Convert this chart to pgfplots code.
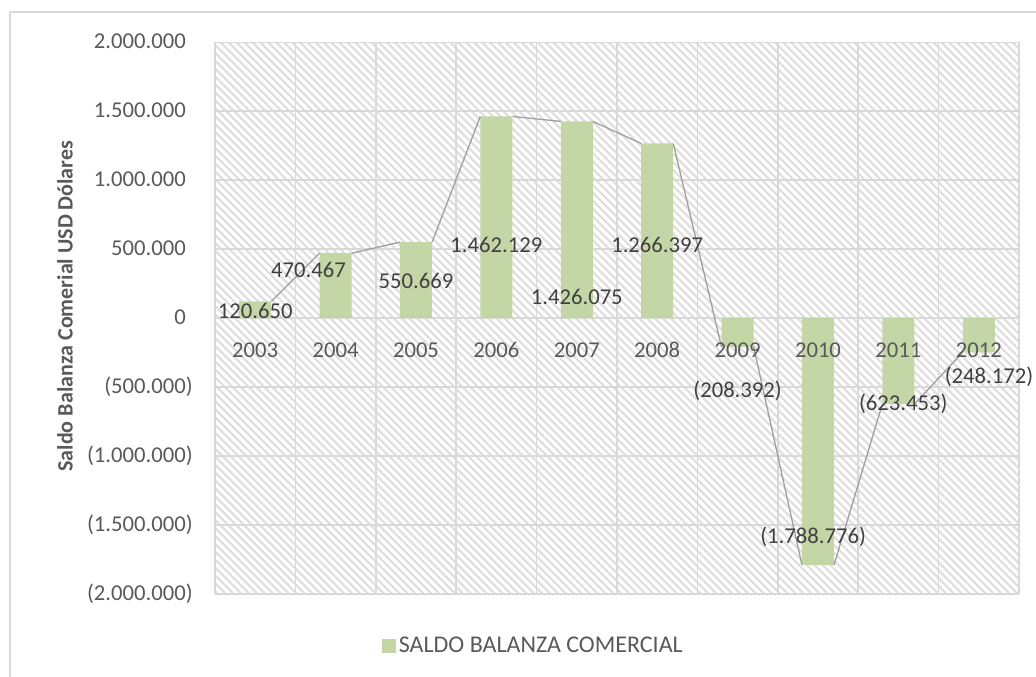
\documentclass[border=0pt]{standalone}
\usepackage{pgfplots}
\pgfplotsset{compat=1.18}
\usepackage{fontspec}
\setmainfont{Carlito}
\usetikzlibrary{patterns.meta}
\definecolor{barcol}{RGB}{196,214,166}
\definecolor{gridc}{RGB}{217,217,217}
\definecolor{hatchc}{RGB}{222,222,222}
\definecolor{tickc}{RGB}{89,89,89}
\definecolor{labc}{RGB}{64,64,64}
\definecolor{linec}{RGB}{160,160,160}
\begin{document}
\begin{tikzpicture}
\useasboundingbox (-161.25pt,-62.25pt) rectangle (615.75pt,445.5pt);
\draw[gridc, line width=0.9pt] (-153.75pt,-120pt) -- (-153.75pt,436.5pt) -- (700pt,436.5pt);
\begin{axis}[
  scale only axis, width=603pt, height=413.8pt,
  xmin=-0.5, xmax=9.5, ymin=-2000000, ymax=2000000,
  scaled y ticks=false,
  axis line style={draw=none},
  major tick length=0pt, minor tick length=0pt,
  axis background/.style={pattern={Lines[angle=-45,distance=4.2pt,line width=1.6pt]}, pattern color=hatchc},
  xtick={0,1,2,3,4,5,6,7,8,9},
  xticklabels={},
  minor xtick={-0.5,0.5,1.5,2.5,3.5,4.5,5.5,6.5,7.5,8.5,9.5},
  xminorgrids=true,
  minor x grid style={gridc, line width=1.1pt},
  ytick={-2000000,-1500000,-1000000,-500000,0,500000,1000000,1500000,2000000},
  yticklabels={{(2.000.000)},{(1.500.000)},{(1.000.000)},{(500.000)},{0\phantom{)}},{500.000\phantom{)}},{1.000.000\phantom{)}},{1.500.000\phantom{)}},{2.000.000\phantom{)}}},
  ymajorgrids=true,
  major grid style={gridc, line width=1.1pt},
  tick label style={font=\fontsize{17}{20}\selectfont, text=tickc},
  yticklabel style={anchor=east, inner sep=0pt, xshift=-16.5pt},
  unbounded coords=jump,
  legend style={at={(axis description cs:0.2027,-0.0942)}, anchor=west, draw=none, fill=none,
    font=\fontsize{18}{21}\selectfont, text=tickc},
  clip=false,
]
\addplot[ybar, bar width=24pt, fill=barcol, draw=none,
  legend image code/.code={\fill[barcol] (0pt,-5.25pt) rectangle (10.5pt,5.25pt);}]
  coordinates {(0,120650) (1,470467) (2,550669) (3,1462129) (4,1426075)
               (5,1266397) (6,-208392) (7,-1788776) (8,-623453) (9,-248172)};
\addlegendentry{SALDO BALANZA COMERCIAL}
\addplot[forget plot, linec, line width=1pt, no marks] coordinates {
  (0.2,120650) (0.8,470467) (1,nan)
  (1.2,470467) (1.8,550669) (2,nan)
  (2.2,550669) (2.8,1462129) (3,nan)
  (3.2,1462129) (3.8,1426075) (4,nan)
  (4.2,1426075) (4.8,1266397) (5,nan)
  (5.2,1266397) (5.8,-208392) (6,nan)
  (6.2,-208392) (6.8,-1788776) (7,nan)
  (7.2,-1788776) (7.8,-623453) (8,nan)
  (8.2,-623453) (8.8,-248172)};
\begin{scope}[every node/.style={font=\fontsize{17}{20}\selectfont, text=tickc, inner sep=0pt, yshift=-23.8pt}]
\node at (axis cs:0,0) {2003};
\node at (axis cs:1,0) {2004};
\node at (axis cs:2,0) {2005};
\node at (axis cs:3,0) {2006};
\node at (axis cs:4,0) {2007};
\node at (axis cs:5,0) {2008};
\node at (axis cs:6,0) {2009};
\node at (axis cs:7,0) {2010};
\node at (axis cs:8,0) {2011};
\node at (axis cs:9,0) {2012};
\end{scope}
\begin{scope}[every node/.style={font=\fontsize{17}{20}\selectfont, text=labc, inner sep=0pt}]
\node at (axis cs:0,52900) {120.650};
\node at (axis cs:0.663,346400) {470.467};
\node at (axis cs:2.0,270300) {550.669};
\node at (axis cs:3.0,531000) {1.462.129};
\node at (axis cs:4.0,154000) {1.426.075};
\node at (axis cs:5.0,531000) {1.266.397};
\node at (axis cs:6.0,-525000) {(208.392)};
\node at (axis cs:6.94,-1584800) {(1.788.776)};
\node at (axis cs:8.06,-621000) {(623.453)};
\node at (axis cs:9.127,-425400) {(248.172)};
\end{scope}
\node[rotate=90, font=\bfseries\fontsize{16.5}{19}\selectfont, text=tickc] at (axis description cs:-0.1866,0.5217) {Saldo Balanza Comerial USD Dólares};
\end{axis}
\end{tikzpicture}
\end{document}
